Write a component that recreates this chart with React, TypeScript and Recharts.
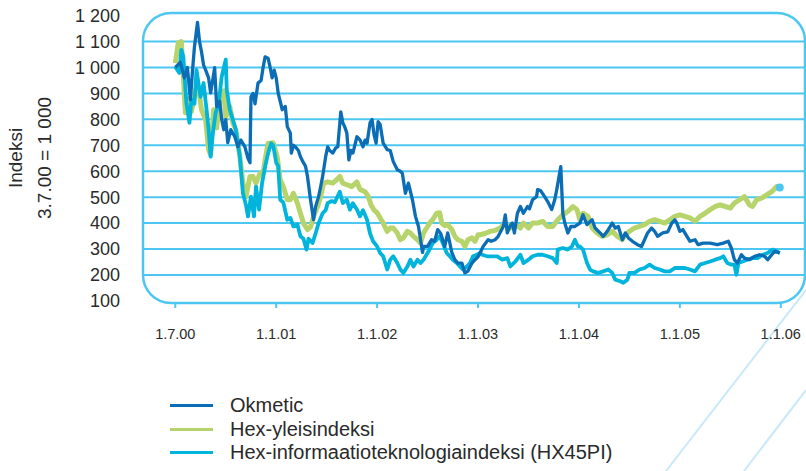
import * as React from 'react';
import {
  LineChart,
  Line,
  XAxis,
  YAxis,
  ReferenceLine,
  ReferenceArea,
  ReferenceDot,
} from 'recharts';

// x is the position on the time axis, in hundredths of a tick period (1.7.00 = 0, 1.1.06 = 600)
const X_TICKS = [0, 100, 200, 300, 400, 500, 600];
const X_LABELS = ['1.7.00', '1.1.01', '1.1.02', '1.1.03', '1.1.04', '1.1.05', '1.1.06'];
const Y_TICKS = [100, 200, 300, 400, 500, 600, 700, 800, 900, 1000, 1100, 1200];
const GRID_VALUES = [200, 300, 400, 500, 600, 700, 800, 900, 1000, 1100];

// Okmetic (index, 3.7.00 = 1000)
const okmetic: [number, number][] = [
  [0, 1000], [5, 1020], [9, 960], [12, 1000], [15, 876], [17, 985], [19, 1080], [22, 1174],
  [24, 1100], [26, 1060], [28, 1010], [30, 991], [33, 960], [35, 902], [37, 950], [39, 999],
  [41, 849], [44, 870], [46, 800], [48, 760], [50, 799], [52, 710], [55, 760], [59, 733],
  [62, 694], [65, 720], [69, 694], [72, 650], [74, 633], [75, 887], [77, 900], [79, 860],
  [82, 940], [85, 950], [87, 1000], [89, 1041], [92, 1035], [94, 1000], [96, 960], [98, 990],
  [100, 960], [102, 900], [106, 837], [109, 850], [111, 772], [114, 747], [115, 670], [117, 700],
  [119, 694], [122, 680], [124, 656], [127, 633], [129, 620], [131, 580], [134, 490], [137, 413],
  [139, 463], [142, 502], [144, 540], [146, 580], [149, 656], [151, 694], [153, 680], [156, 670],
  [159, 690], [161, 694], [164, 829], [166, 787], [168, 770], [170, 747], [172, 644], [174, 680],
  [176, 670], [180, 733], [183, 721], [186, 694], [188, 720], [190, 708], [193, 787], [195, 799],
  [197, 740], [199, 708], [201, 791], [203, 780], [206, 708], [210, 683], [213, 680], [216, 637],
  [220, 606], [223, 600], [225, 592], [228, 515], [231, 554], [235, 490], [238, 426], [241, 387],
  [245, 287], [246, 310], [250, 310], [254, 336], [257, 330], [260, 375], [263, 360], [267, 310],
  [270, 362], [274, 287], [277, 259], [280, 246], [284, 246], [287, 208], [290, 215], [294, 246],
  [297, 259], [300, 270], [302, 285], [305, 310], [310, 336], [313, 330], [317, 336], [320, 349],
  [325, 387], [327, 432], [329, 362], [332, 390], [334, 400], [336, 362], [339, 438], [342, 464],
  [345, 438], [349, 464], [351, 455], [354, 490], [358, 502], [359, 529], [362, 525], [366, 502],
  [369, 483], [373, 452], [376, 490], [378, 529], [382, 618], [384, 438], [386, 400], [389, 362],
  [392, 387], [396, 387], [401, 400], [404, 432], [408, 394], [413, 413], [416, 381], [421, 362],
  [424, 349], [428, 368], [433, 400], [436, 381], [439, 387], [443, 336], [446, 362], [449, 343],
  [453, 330], [458, 317], [462, 310], [465, 336], [468, 362], [472, 381], [475, 368], [478, 349],
  [483, 362], [488, 366], [492, 400], [495, 413], [497, 400], [500, 368], [503, 375], [507, 349],
  [510, 330], [515, 336], [518, 317], [523, 323], [530, 323], [537, 317], [543, 323], [548, 330],
  [551, 304], [554, 259], [557, 246], [561, 278], [564, 265], [569, 259], [574, 272], [579, 278],
  [584, 272], [587, 259], [591, 278], [594, 291], [599, 285],
];

// Hex-yleisindeksi
const hexGeneral: [number, number][] = [
  [0, 1017], [3, 1095], [6, 1100], [8, 965], [10, 825], [13, 880], [16, 830], [20, 914],
  [23, 920], [26, 837], [30, 799], [33, 683], [35, 664], [38, 837], [41, 767], [45, 902],
  [48, 910], [50, 810], [54, 850], [57, 787], [60, 760], [64, 656], [67, 554], [70, 502],
  [74, 580], [77, 580], [80, 554], [84, 592], [87, 590], [89, 644], [92, 708], [94, 708],
  [97, 710], [101, 656], [104, 567], [107, 541], [111, 490], [114, 490], [117, 515], [121, 477],
  [124, 438], [127, 400], [131, 375], [134, 385], [137, 426], [141, 464], [144, 502], [147, 554],
  [151, 559], [156, 554], [160, 567], [163, 580], [166, 554], [170, 548], [175, 541], [180, 559],
  [183, 530], [188, 521], [191, 505], [194, 470], [197, 450], [200, 440], [203, 420], [206, 400],
  [210, 368], [213, 381], [216, 381], [220, 362], [223, 336], [226, 343], [230, 368], [233, 362],
  [236, 349], [240, 336], [243, 323], [246, 362], [250, 387], [252, 400], [255, 413], [259, 438],
  [262, 440], [264, 400], [267, 390], [270, 394], [274, 375], [277, 349], [280, 336], [284, 330],
  [287, 310], [290, 336], [294, 343], [297, 330], [300, 355], [302, 355], [307, 360], [312, 368],
  [317, 372], [322, 381], [327, 400], [332, 381], [337, 394], [342, 381], [345, 400], [350, 381],
  [354, 400], [359, 400], [364, 407], [369, 387], [374, 387], [379, 413], [384, 432], [389, 445],
  [394, 464], [398, 452], [401, 413], [404, 438], [409, 426], [413, 381], [418, 362], [423, 349],
  [428, 355], [433, 368], [438, 349], [443, 336], [446, 355], [450, 368], [455, 381], [460, 387],
  [465, 394], [470, 407], [475, 413], [480, 407], [485, 400], [490, 413], [495, 426], [500, 432],
  [505, 426], [510, 420], [515, 407], [520, 426], [525, 438], [530, 452], [535, 464], [540, 470],
  [545, 464], [550, 458], [554, 477], [559, 490], [564, 502], [569, 470], [572, 464], [576, 490],
  [581, 496], [586, 509], [591, 521], [596, 541], [599, 537],
];

// Hex-informaatioteknologiaindeksi (HX45PI)
const hexIT: [number, number][] = [
  [0, 1003], [4, 979], [6, 1068], [8, 1040], [11, 864], [14, 787], [16, 876], [19, 860],
  [21, 991], [25, 887], [28, 940], [31, 837], [33, 760], [35, 656], [37, 740], [40, 825],
  [43, 860], [46, 965], [50, 1030], [51, 914], [54, 837], [57, 800], [60, 760], [64, 656],
  [67, 515], [70, 470], [72, 426], [75, 502], [78, 426], [80, 541], [83, 452], [86, 554],
  [89, 618], [92, 670], [95, 708], [97, 700], [100, 633], [102, 620], [104, 490], [107, 480],
  [111, 413], [114, 420], [117, 387], [121, 395], [124, 349], [127, 340], [130, 298], [132, 340],
  [136, 323], [139, 360], [142, 400], [146, 438], [149, 450], [151, 477], [155, 485], [158, 480],
  [163, 521], [166, 477], [170, 490], [173, 452], [176, 477], [180, 452], [183, 426], [186, 450],
  [190, 413], [193, 360], [196, 330], [200, 310], [203, 285], [206, 272], [210, 221], [213, 259],
  [216, 272], [220, 246], [223, 221], [226, 208], [230, 233], [233, 259], [236, 233], [240, 259],
  [243, 246], [246, 259], [250, 285], [252, 298], [255, 323], [259, 336], [262, 349], [265, 323],
  [269, 285], [272, 272], [275, 259], [279, 246], [282, 233], [285, 221], [289, 233], [292, 246],
  [295, 272], [299, 278], [302, 285], [304, 278], [309, 272], [314, 272], [319, 272], [324, 259],
  [329, 265], [332, 233], [337, 252], [342, 278], [345, 246], [350, 259], [354, 272], [359, 278],
  [364, 278], [369, 272], [374, 265], [378, 246], [379, 298], [384, 304], [389, 298], [393, 310],
  [396, 336], [399, 310], [401, 310], [404, 298], [408, 246], [411, 221], [414, 214], [419, 208],
  [424, 214], [429, 221], [433, 208], [436, 182], [441, 176], [444, 170], [448, 182], [450, 208],
  [455, 208], [460, 221], [465, 227], [470, 240], [475, 227], [480, 221], [485, 214], [490, 214],
  [495, 227], [500, 227], [505, 227], [510, 221], [515, 214], [520, 240], [525, 246], [530, 252],
  [535, 259], [540, 265], [543, 272], [547, 246], [551, 240], [554, 240], [556, 201], [558, 246],
  [562, 252], [567, 259], [572, 265], [577, 265], [582, 278], [587, 285], [592, 298], [596, 291],
  [599, 285],
];

const SERIES = [
  { name: 'Okmetic', data: okmetic, color: '#0b6db5' },
  { name: 'Hex-yleisindeksi', data: hexGeneral, color: '#b7d46c' },
  { name: 'Hex-informaatioteknologiaindeksi (HX45PI)', data: hexIT, color: '#00b4dc' },
];

const FRAME = '#4cc7f1';
const TEXT = '#2a2a2a';
const FONT = '"Liberation Sans", Arial, sans-serif';

const toRows = (pts: [number, number][]) => pts.map(([t, v]) => ({ t, v }));

const fmtY = (v: number) =>
  v >= 1000 ? `${Math.floor(v / 1000)} ${String(v % 1000).padStart(3, '0')}` : String(v);

const RoundedFrame = (props: any) => {
  const { x, y, width, height } = props;
  return (
    <rect x={x} y={y} width={width} height={height} rx={28} ry={28}
      fill="none" stroke={FRAME} strokeWidth={2.5} />
  );
};

export default function App() {
  const okRows = toRows(okmetic);
  const genRows = toRows(hexGeneral);
  const itRows = toRows(hexIT);
  const last = hexGeneral[hexGeneral.length - 1];

  return (
    <div style={{ position: 'absolute', left: 0, top: 0, width: 806, height: 471, background: '#fff', fontFamily: FONT, overflow: 'hidden' }}>
      {/* page decoration lines */}
      <svg width={806} height={471} style={{ position: 'absolute', left: 0, top: 0 }}>
        <line x1={806} y1={290} x2={666} y2={471} stroke="#c9e8f8" strokeWidth={2} />
        <line x1={806} y1={390} x2={744} y2={471} stroke="#c9e8f8" strokeWidth={2} />
      </svg>

      <div style={{ position: 'absolute', left: 0, top: 0 }}>
        <LineChart width={806} height={471} margin={{ top: 13, right: 1, bottom: 138, left: 0 }}>
          <XAxis
            dataKey="t"
            type="number"
            domain={[-32, 624]}
            ticks={X_TICKS}
            tickFormatter={(v: number) => X_LABELS[X_TICKS.indexOf(v)] ?? ''}
            axisLine={false}
            tickLine={{ stroke: FRAME, strokeWidth: 2 }}
            tickSize={5}
            tickMargin={21}
            height={30}
            tick={{ fill: TEXT, fontSize: 14.5, fontFamily: FONT }}
            allowDataOverflow
          />
          <YAxis
            type="number"
            domain={[92, 1210]}
            ticks={Y_TICKS}
            tickFormatter={fmtY}
            axisLine={false}
            tickLine={false}
            tickSize={0}
            tickMargin={23}
            width={143}
            interval={0}
            tick={{ fill: TEXT, fontSize: 18, fontFamily: FONT }}
            allowDataOverflow
          />
          <ReferenceArea x1={-32} x2={624} y1={92} y2={1210} shape={<RoundedFrame />} ifOverflow="visible" />
          {GRID_VALUES.map((g) => (
            <ReferenceLine key={g} y={g} stroke={FRAME} strokeWidth={2} />
          ))}
          <Line data={genRows} dataKey="v" type="linear" stroke={SERIES[1].color} strokeWidth={5}
            dot={false} isAnimationActive={false} strokeLinejoin="round" />
          <Line data={itRows} dataKey="v" type="linear" stroke={SERIES[2].color} strokeWidth={3.8}
            dot={false} isAnimationActive={false} strokeLinejoin="round" />
          <Line data={okRows} dataKey="v" type="linear" stroke={SERIES[0].color} strokeWidth={3.3}
            dot={false} isAnimationActive={false} strokeLinejoin="round" />
          <ReferenceDot x={last[0]} y={last[1]} r={4} fill={FRAME} stroke="none" />
        </LineChart>
      </div>

      {/* y axis title */}
      <div style={{ position: 'absolute', left: 16, top: 158, transform: 'translate(-50%, -50%) rotate(-90deg)', whiteSpace: 'nowrap', fontSize: 19, color: TEXT }}>
        Indeksi
      </div>
      <div style={{ position: 'absolute', left: 45, top: 158, transform: 'translate(-50%, -50%) rotate(-90deg)', whiteSpace: 'nowrap', fontSize: 19, color: TEXT }}>
        3.7.00 = 1 000
      </div>

      {/* legend */}
      <div style={{ position: 'absolute', left: 170, top: 394 }}>
        {SERIES.map((s) => (
          <div key={s.name} style={{ display: 'flex', alignItems: 'center', height: 23.5 }}>
            <div style={{ width: 43, height: 3, background: s.color, marginRight: 17 }} />
            <span style={{ fontSize: 20, color: TEXT, lineHeight: '23.5px', whiteSpace: 'nowrap' }}>{s.name}</span>
          </div>
        ))}
      </div>
    </div>
  );
}
